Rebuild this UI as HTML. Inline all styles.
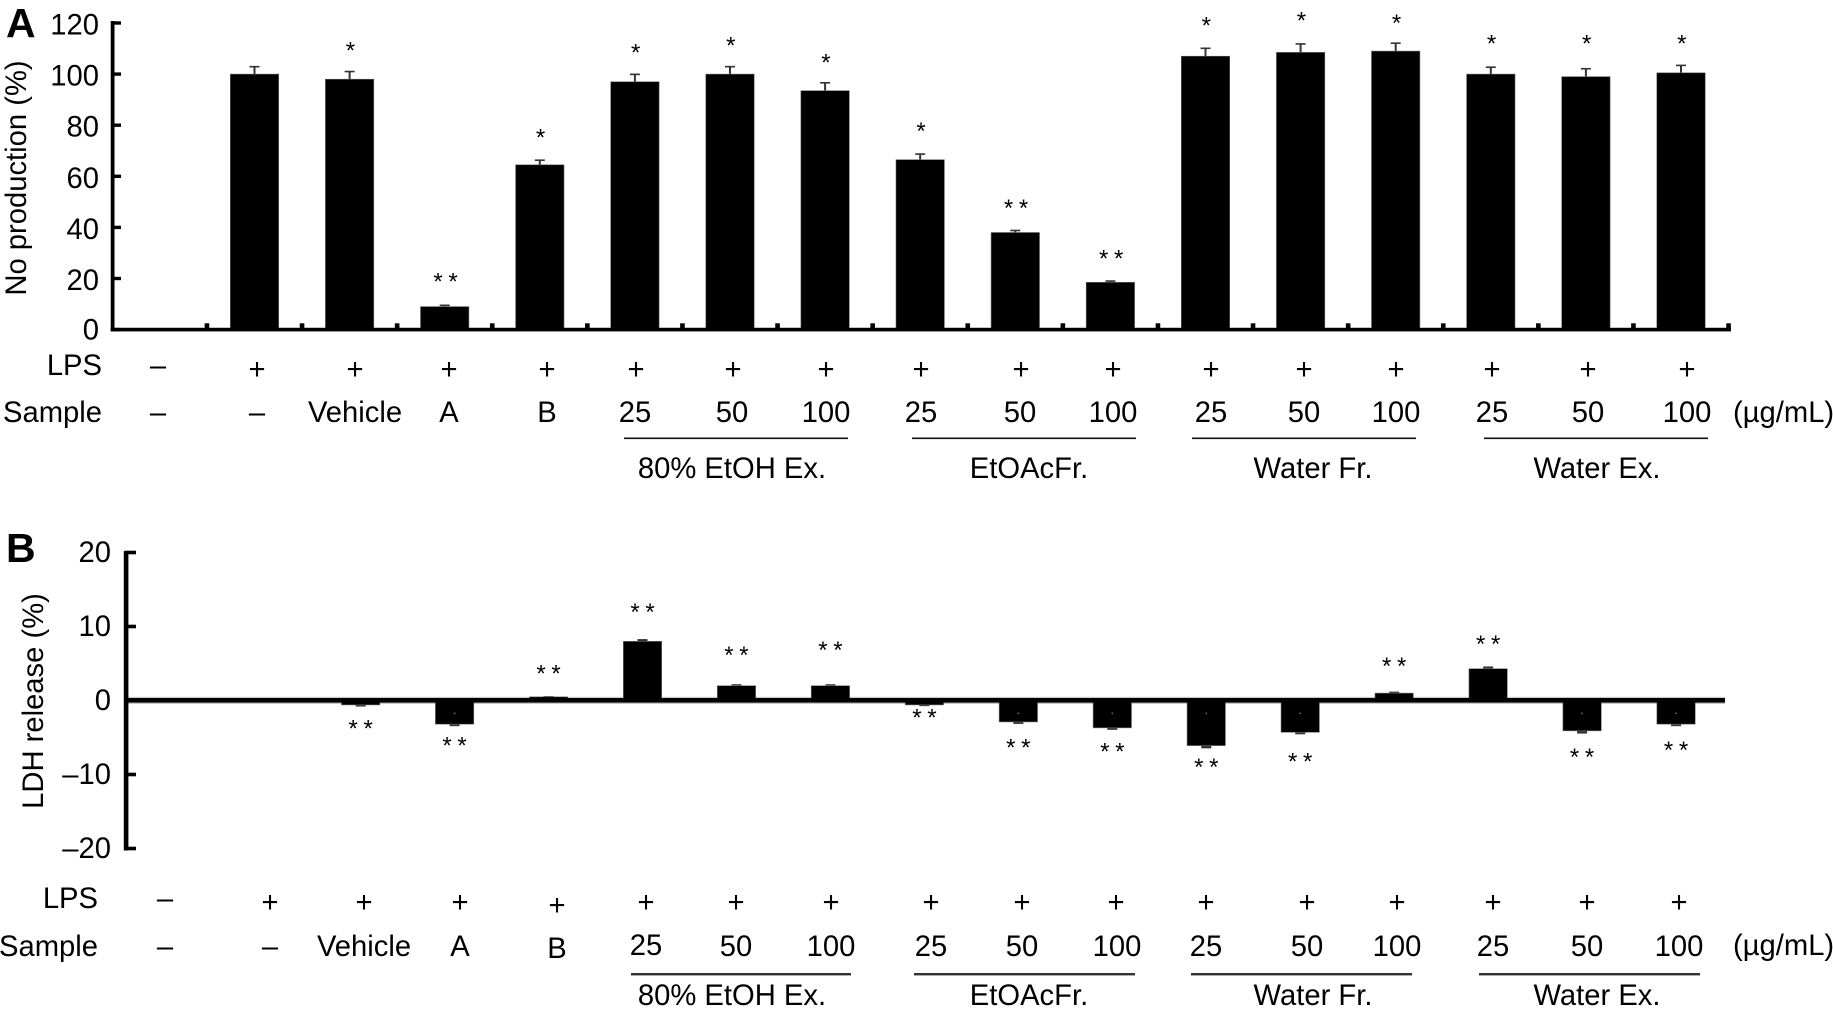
<!DOCTYPE html>
<html lang="en">
<head>
<meta charset="utf-8">
<title>NO production and LDH release</title>
<style>
html,body{margin:0;padding:0;background:#fff;width:1833px;height:1013px;overflow:hidden}
svg{display:block}
text{font-family:"Liberation Sans",Arial,sans-serif;font-size:29.2px;fill:#000}
.m{text-anchor:middle}
.e{text-anchor:end}
.panel{font-size:41px;font-weight:bold}
.star{font-size:24px;text-anchor:middle;word-spacing:-1px}
</style>
</head>
<body>
<svg id="figure" width="1833" height="1013" viewBox="0 0 1833 1013" xmlns="http://www.w3.org/2000/svg">
<rect width="1833" height="1013" fill="#fff"/>
<text class="panel" x="6" y="37">A</text>
<text class="panel" x="6" y="562">B</text>
<text class="m" transform="translate(26,178) rotate(-90)">No production (%)</text>
<text class="m" transform="translate(43,701) rotate(-90)">LDH release (%)</text>

<g>
<text class="e" x="102" y="375">LPS</text>
<text class="m" x="158" y="375">–</text>
<text class="m" x="257" y="379">+</text>
<text class="m" x="355" y="379">+</text>
<text class="m" x="449" y="379">+</text>
<text class="m" x="547" y="379">+</text>
<text class="m" x="636" y="379">+</text>
<text class="m" x="733" y="379">+</text>
<text class="m" x="826" y="379">+</text>
<text class="m" x="921" y="379">+</text>
<text class="m" x="1021" y="379">+</text>
<text class="m" x="1113" y="379">+</text>
<text class="m" x="1211" y="379">+</text>
<text class="m" x="1304" y="379">+</text>
<text class="m" x="1396" y="379">+</text>
<text class="m" x="1492" y="379">+</text>
<text class="m" x="1588" y="379">+</text>
<text class="m" x="1687" y="379">+</text>
</g>
<g>
<text class="e" x="102" y="422">Sample</text>
<text class="m" x="158" y="422">–</text>
<text class="m" x="257" y="422">–</text>
<text class="m" x="355" y="422">Vehicle</text>
<text class="m" x="449" y="422">A</text>
<text class="m" x="547" y="422">B</text>
<text class="m" x="635" y="422">25</text>
<text class="m" x="732" y="422">50</text>
<text class="m" x="826" y="422">100</text>
<text class="m" x="921" y="422">25</text>
<text class="m" x="1020" y="422">50</text>
<text class="m" x="1113" y="422">100</text>
<text class="m" x="1211" y="422">25</text>
<text class="m" x="1304" y="422">50</text>
<text class="m" x="1396" y="422">100</text>
<text class="m" x="1492" y="422">25</text>
<text class="m" x="1588" y="422">50</text>
<text class="m" x="1687" y="422">100</text>
<text x="1733" y="422">(µg/mL)</text>
</g>
<g>
<rect x="624" y="437.5" width="224" height="1.6" fill="#111"/>
<rect x="912" y="437.5" width="224" height="1.6" fill="#111"/>
<rect x="1192" y="437.5" width="224" height="1.6" fill="#111"/>
<rect x="1484" y="437.5" width="224" height="1.6" fill="#111"/>
<text class="m" x="732" y="478">80% EtOH Ex.</text>
<text class="m" x="1029" y="478">EtOAcFr.</text>
<text class="m" x="1313" y="478">Water Fr.</text>
<text class="m" x="1597" y="478">Water Ex.</text>
</g>

<g>
<text class="e" x="98" y="908">LPS</text>
<text class="m" x="165" y="908">–</text>
<text class="m" x="270" y="912">+</text>
<text class="m" x="364" y="912">+</text>
<text class="m" x="460" y="912">+</text>
<text class="m" x="557" y="915">+</text>
<text class="m" x="646" y="912">+</text>
<text class="m" x="736" y="912">+</text>
<text class="m" x="831" y="912">+</text>
<text class="m" x="931" y="912">+</text>
<text class="m" x="1022" y="912">+</text>
<text class="m" x="1116" y="912">+</text>
<text class="m" x="1206" y="912">+</text>
<text class="m" x="1307" y="912">+</text>
<text class="m" x="1397" y="912">+</text>
<text class="m" x="1493" y="912">+</text>
<text class="m" x="1587" y="912">+</text>
<text class="m" x="1679" y="912">+</text>
</g>
<g>
<text class="e" x="98" y="956">Sample</text>
<text class="m" x="165" y="956">–</text>
<text class="m" x="270" y="956">–</text>
<text class="m" x="364" y="956">Vehicle</text>
<text class="m" x="460" y="956">A</text>
<text class="m" x="557" y="958">B</text>
<text class="m" x="646" y="955">25</text>
<text class="m" x="736" y="956">50</text>
<text class="m" x="831" y="956">100</text>
<text class="m" x="931" y="956">25</text>
<text class="m" x="1022" y="956">50</text>
<text class="m" x="1117" y="956">100</text>
<text class="m" x="1206" y="956">25</text>
<text class="m" x="1307" y="956">50</text>
<text class="m" x="1397" y="956">100</text>
<text class="m" x="1493" y="956">25</text>
<text class="m" x="1587" y="956">50</text>
<text class="m" x="1679" y="956">100</text>
<text x="1733" y="955">(µg/mL)</text>
</g>
<g>
<rect x="631" y="973" width="220" height="2.4" fill="#333"/>
<rect x="914" y="973" width="221" height="2.4" fill="#333"/>
<rect x="1191" y="973" width="221" height="2.4" fill="#333"/>
<rect x="1479" y="973" width="221" height="2.4" fill="#333"/>
<text class="m" x="732" y="1005">80% EtOH Ex.</text>
<text class="m" x="1029" y="1005">EtOAcFr.</text>
<text class="m" x="1313" y="1005">Water Fr.</text>
<text class="m" x="1597" y="1005">Water Ex.</text>
</g>
<g id="marks"></g>
</svg>
<script>
var categories = ['Control', 'LPS', 'Vehicle', 'A', 'B', 'EtOH 25', 'EtOH 50', 'EtOH 100', 'EtOAc 25', 'EtOAc 50', 'EtOAc 100', 'Water Fr 25', 'Water Fr 50', 'Water Fr 100', 'Water Ex 25', 'Water Ex 50', 'Water Ex 100'];
var noTicks = [0, 20, 40, 60, 80, 100, 120];
var noValues = [0, 100, 98, 9, 64.5, 97, 100, 93.5, 66.5, 38, 18.5, 107, 108.5, 109, 100, 99, 100.5];
var noErrors = [0, 2.9, 3, 0.5, 1.8, 2.9, 2.9, 3.1, 2.2, 0.8, 0.5, 3.1, 3.3, 3.1, 2.7, 3.1, 2.9];
var noStars = [0, 0, 1, 2, 1, 1, 1, 1, 1, 2, 2, 1, 1, 1, 1, 1, 1];
var noStarGaps = [0, 0, 12.5, 11.2, 12, 12.8, 12.5, 12.3, 12.5, 11, 10.6, 13.3, 13.8, 12.4, 13.3, 14.4, 12.8];
var ldhTicks = [-20, -10, 0, 10, 20];
var ldhValues = [0, 0, -0.6, -3.2, 0.5, 8, 2, 2, -0.6, -2.9, -3.7, -6.1, -4.3, 1, 4.3, -4.1, -3.2];
var ldhErrors = [0, 0, 0.15, 0.2, 0.1, 0.3, 0.2, 0.2, 0.1, 0.2, 0.2, 0.3, 0.2, 0.2, 0.3, 0.3, 0.2];
var ldhStars = [0, 0, 2, 2, 2, 2, 2, 2, 2, 2, 2, 2, 2, 2, 2, 2, 2];
var ldhStarGaps = [0, 0, 2.75, 2.43, 3.6, 4.45, 4.6, 5.3, 1.25, 3, 2.7, 2.4, 3.5, 4.1, 3.8, 3.1, 3];

var NS = 'http://www.w3.org/2000/svg';
var marks = document.getElementById('marks');

function shape(tag, attrs) {
  var el = document.createElementNS(NS, tag);
  for (var k in attrs) el.setAttribute(k, attrs[k]);
  marks.appendChild(el);
  return el;
}
function box(x, y, w, h, fill) {
  return shape('rect', {x: x, y: y, width: w, height: h, fill: fill});
}
function noX(i) { return 159.4 + 95.1 * i; }
function noY(v) { return 329.6 - 2.555 * v; }
function ldhX(i) { return 172.7 + 93.96 * i; }
function ldhY(v) { return 700.5 - 7.4 * v; }
function tickText(v) { return v < 0 ? '–' + Math.abs(v) : String(v); }

function drawPanelA() {
  var el;
  el = box(110.7, 327.3, 1620.3, 0.9, '#aaa');
  
  
  noValues.forEach(function (v, i) {
    if (!v) return;
    var x = noX(i), top = noY(v), capY = noY(v + noErrors[i]);
    el = box(x - 1, capY, 2, top - capY, '#333');
    
    
    el = box(x - 5, capY - 0.8, 10, 1.6, '#333');
    
    
    el = shape('rect', {x: x - 24.2, y: top, width: 48.4, height: noY(0) - top, fill: '#000', stroke: '#666', 'stroke-width': 0.6});
    
    
    if (noStars[i]) {
      el = shape('text', {x: x + 0.8, y: noY(v + noStarGaps[i]) + 11.4, 'class': 'star'});
      el.textContent = noStars[i] === 2 ? '* *' : '*';
      
      
    }
  });
  el = box(110.7, 21, 3.8, 310.4, '#000');
  
  
  el = box(110.7, 328, 1620.3, 3.4, '#000');
  
  
  noTicks.forEach(function (t) {
    el = box(112, noY(t) - 1.7, 9, 3.4, '#000');
    
    
    el = shape('text', {x: 99, y: noY(t) + (t === 0 ? 10 : 11.5), 'class': 'e'});
    el.textContent = tickText(t);
    
    
  });
  categories.forEach(function (c, i) {
    el = box(noX(i) + 47.55 - 2.3, 323.3, 4.6, 6, '#000');
    
    
  });
}

function drawPanelB() {
  var el;
  el = box(124, 696.8, 1601, 1.2, '#ccc');
  
  
  el = box(124, 702.6, 1601, 1.2, '#bbb');
  
  
  ldhValues.forEach(function (v, i) {
    if (!v) return;
    var x = ldhX(i), dir = v < 0 ? -1 : 1, end = ldhY(v), capY = ldhY(v + dir * ldhErrors[i]);
    el = box(x - 5, Math.min(end, capY), 10, Math.abs(end - capY) + 0.5, '#333');
    
    
    el = shape('rect', {x: x - 19.2, y: Math.min(end, ldhY(0)), width: 38.4, height: Math.abs(end - ldhY(0)), fill: '#000', stroke: '#777', 'stroke-width': 0.6});
    
    
    if (v < -2) {
      el = box(x - 0.8, ldhY(0) + 12, 1.6, 1.6, '#666');
      
      
    }
    if (ldhStars[i]) {
      el = shape('text', {x: x, y: ldhY(v + dir * ldhStarGaps[i]) + 11.4, 'class': 'star'});
      el.textContent = ldhStars[i] === 2 ? '* *' : '*';
      
      
    }
  });
  el = box(123.8, 551, 4.6, 299.5, '#000');
  
  
  el = box(124, 698, 1601, 4.6, '#000');
  
  
  ldhTicks.forEach(function (t) {
    el = box(125, ldhY(t) - 1.8, 11, 3.6, '#000');
    
    
    el = shape('text', {x: 111, y: ldhY(t) + 9.5, 'class': 'e'});
    el.textContent = tickText(t);
    
    
  });
}

drawPanelA();
drawPanelB();
</script>
</body>
</html>
